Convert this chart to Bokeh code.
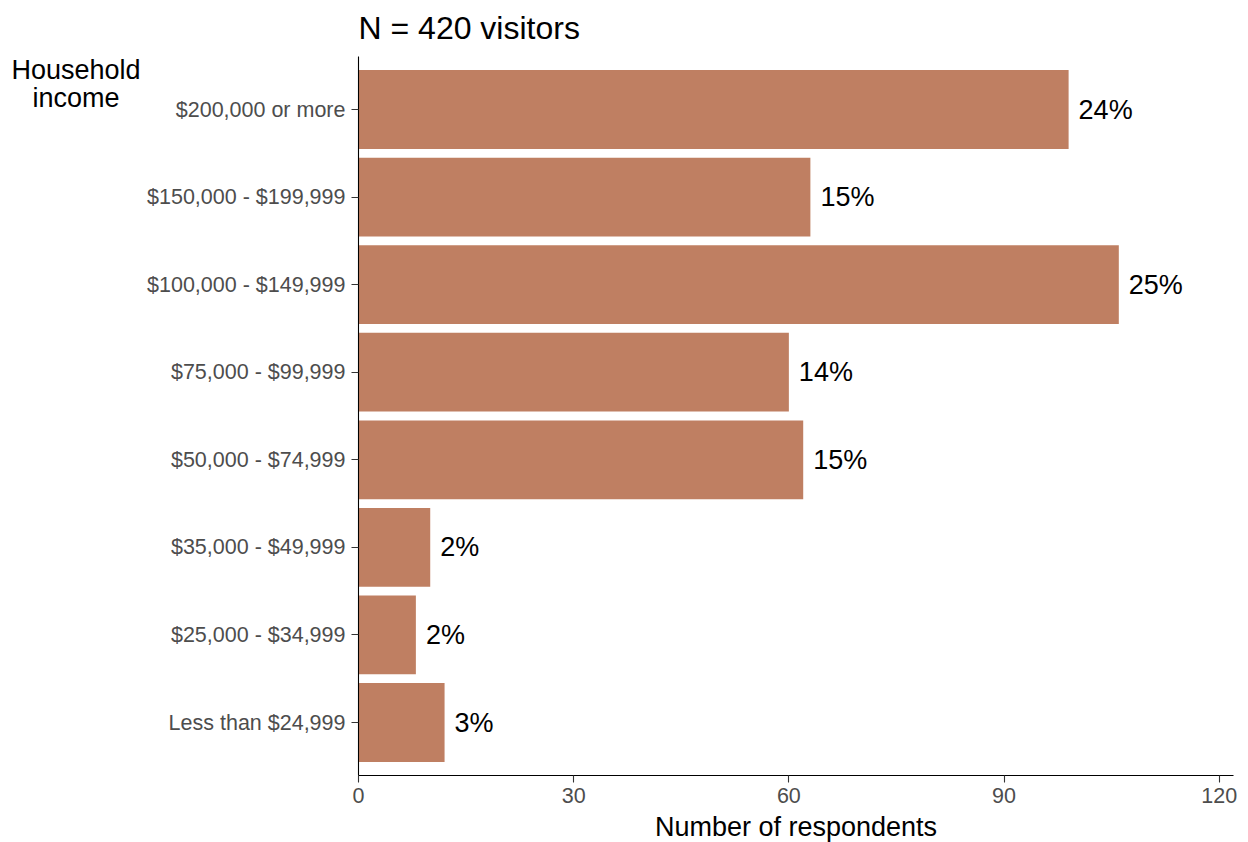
from bokeh.plotting import figure
from bokeh.models import Range1d, Label, ColumnDataSource, FixedTicker
from bokeh.core.properties import value
from bokeh.embed import file_html
from bokeh.resources import INLINE

# Data (bottom to top)
categories = ["Less than $24,999", "$25,000 - $34,999", "$35,000 - $49,999",
              "$50,000 - $74,999", "$75,000 - $99,999", "$100,000 - $149,999",
              "$150,000 - $199,999", "$200,000 or more"]
counts = [12, 8, 10, 62, 60, 106, 63, 99]
pct_labels = ["3%", "2%", "2%", "15%", "14%", "25%", "15%", "24%"]
x_ticks = [0, 30, 60, 90, 120]
title_text = "N = 420 visitors"
x_title = "Number of respondents"
y_title_lines = ["Household", "income"]

FONT = "Liberation Sans"
BAR = "#BF7F62"

# view window (whole canvas is the frame so that all texts can sit inside it)
X_LO, X_HI = -49.91, 124.08
Y_LO, Y_HI = -1.3703, 8.2447
X_AXIS_END = 122.0
Y_PAD = 0.6

y_pos = list(range(len(categories)))
src = ColumnDataSource(dict(y=y_pos, n=counts, lab=pct_labels))

p = figure(width=1248, height=842, output_backend="svg", toolbar_location=None,
           x_range=Range1d(X_LO, X_HI), y_range=Range1d(Y_LO, Y_HI),
           min_border_left=0, min_border_right=0, min_border_top=0,
           min_border_bottom=0)
p.outline_line_color = None
p.xgrid.visible = False
p.ygrid.visible = False
p.background_fill_color = "white"
p.border_fill_color = "white"

p.hbar(y="y", right="n", left=0, height=0.9, source=src,
       fill_color=BAR, line_color=None)
p.text(x="n", y="y", text="lab", source=src, x_offset=10,
       text_baseline="middle", text_align="left",
       text_font=value(FONT), text_font_size="27px", text_color="black")

for ax in (p.xaxis[0], p.yaxis[0]):
    ax.axis_line_color = "black"
    ax.axis_line_width = 1.1
    ax.major_tick_line_color = "#333333"
    ax.major_tick_line_width = 1.1
    ax.major_tick_out = 7
    ax.major_tick_in = 0
    ax.minor_tick_line_color = None
    ax.major_label_text_font = FONT
    ax.major_label_text_font_size = "21.5px"
    ax.major_label_text_color = "#4D4D4D"
    ax.major_label_standoff = 6

yax = p.yaxis[0]
yax.fixed_location = 0
yax.bounds = (y_pos[0] - Y_PAD, y_pos[-1] + Y_PAD)
yax.ticker = FixedTicker(ticks=y_pos, minor_ticks=[])
yax.major_label_overrides = {i: c for i, c in zip(y_pos, categories)}

xax = p.xaxis[0]
xax.fixed_location = y_pos[0] - Y_PAD
xax.bounds = (0, X_AXIS_END)
xax.ticker = FixedTicker(ticks=x_ticks, minor_ticks=[])

p.add_layout(Label(x=358, y=814.5, x_units="screen", y_units="screen",
                   text=title_text, text_font=FONT, text_font_size="32px",
                   text_color="black", text_align="left",
                   text_baseline="alphabetic"))
p.add_layout(Label(x=795.5, y=16, x_units="screen", y_units="screen",
                   text=x_title, text_font=FONT, text_font_size="27px",
                   text_color="black", text_align="center",
                   text_baseline="alphabetic"))
for i, line in enumerate(y_title_lines):
    p.add_layout(Label(x=75.5, y=773 - 28 * i, x_units="screen", y_units="screen",
                       text=line, text_font=FONT, text_font_size="27px",
                       text_color="black", text_align="center",
                       text_baseline="alphabetic"))

open("out.html", "w").write(file_html(p, INLINE))
